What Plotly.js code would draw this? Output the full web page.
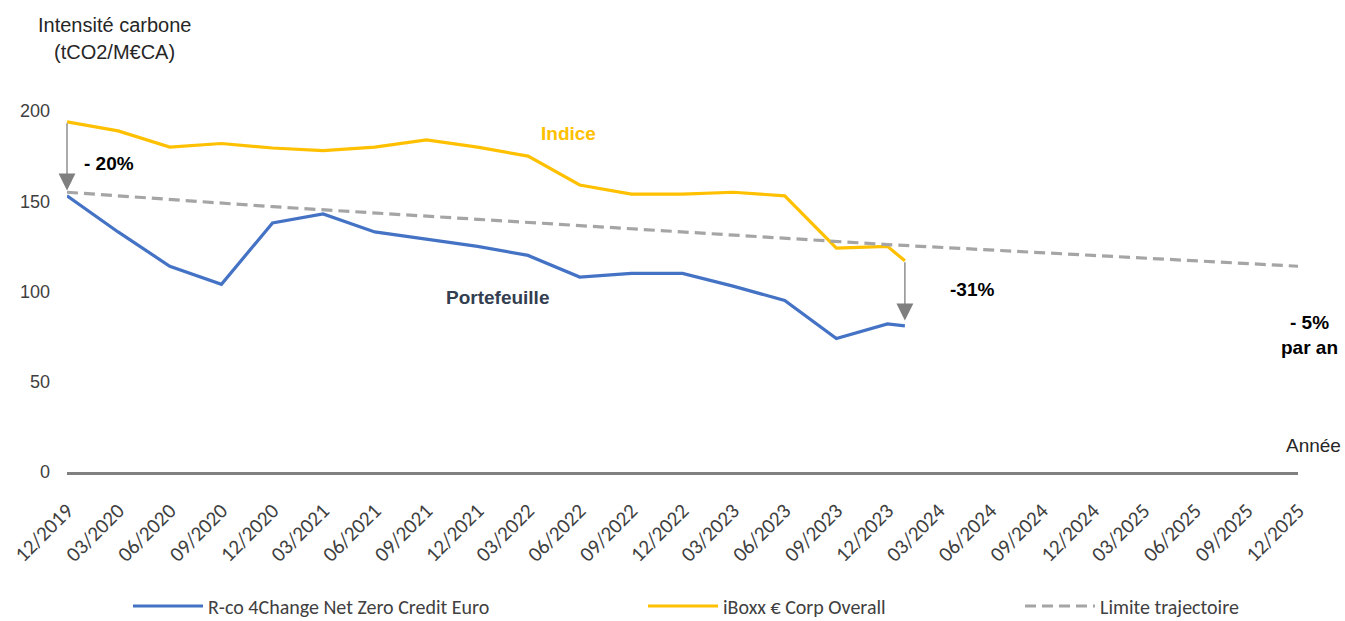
<!DOCTYPE html>
<html>
<head>
<meta charset="utf-8">
<script src="https://cdn.plot.ly/plotly-3.0.1.min.js"></script>
<style>html,body{margin:0;padding:0;background:#fff;}#chart{width:1345px;height:621px;}</style>
</head>
<body>
<div id="chart"></div>
<script>
// Quarterly tick positions and labels
const tickDates = ["2019-12-01","2020-03-01","2020-06-01","2020-09-01","2020-12-01","2021-03-01","2021-06-01","2021-09-01","2021-12-01","2022-03-01","2022-06-01","2022-09-01","2022-12-01","2023-03-01","2023-06-01","2023-09-01","2023-12-01","2024-03-01","2024-06-01","2024-09-01","2024-12-01","2025-03-01","2025-06-01","2025-09-01","2025-12-01"];
const tickLabels = ["12/2019","03/2020","06/2020","09/2020","12/2020","03/2021","06/2021","09/2021","12/2021","03/2022","06/2022","09/2022","12/2022","03/2023","06/2023","09/2023","12/2023","03/2024","06/2024","09/2024","12/2024","03/2025","06/2025","09/2025","12/2025"];

// Observed series dates (quarterly + last point 01/2024)
const seriesDates = ["2019-12-01","2020-03-01","2020-06-01","2020-09-01","2020-12-01","2021-03-01","2021-06-01","2021-09-01","2021-12-01","2022-03-01","2022-06-01","2022-09-01","2022-12-01","2023-03-01","2023-06-01","2023-09-01","2023-12-01","2024-01-01"];
const portfolio = [153,133,114,104,138,143,133,129,125,120,108,110,110,103,95,74,82,81];
const indice    = [194,189,180,182,179.5,178,180,184,180,175,159,154,154,155,153,124,125,117];

// Trajectory limit (-5% per year)
const trajDates = ["2019-12-01","2020-12-01","2021-12-01","2022-12-01","2023-12-01","2024-12-01","2025-12-01"];
const trajectory = [155,147,140,133,126,120,114];

const yTicks = [0,50,100,150,200];

const names = ["R-co 4Change Net Zero Credit Euro","iBoxx € Corp Overall","Limite trajectoire"];
const colors = {blue:"#4472C4", gold:"#FFC000", grey:"#A5A5A5"};

const legendFont = {family:"Carlito, 'Liberation Sans Narrow', 'Liberation Sans', Arial, sans-serif", size:20, color:"#404040"};

const traces = [
  {x:seriesDates, y:portfolio, name:names[0], type:"scatter", mode:"lines",
   line:{color:colors.blue, width:3.2}, legend:"legend", cliponaxis:false, hoverinfo:"skip"},
  {x:seriesDates, y:indice, name:names[1], type:"scatter", mode:"lines",
   line:{color:colors.gold, width:3.2}, legend:"legend2", cliponaxis:false, hoverinfo:"skip"},
  {x:trajDates, y:trajectory, name:names[2], type:"scatter", mode:"lines",
   line:{color:colors.grey, width:3.2, dash:"11px,6px"}, legend:"legend3", cliponaxis:false, hoverinfo:"skip"}
];

const last = seriesDates.length - 1;
const bold = {family:"'Liberation Sans', Arial, sans-serif", size:19, color:"#000000", weight:"bold"};
const arrowStyle = {showarrow:true, arrowhead:2, arrowsize:2.6, arrowwidth:1.3, arrowcolor:"#7F7F7F", text:"", axref:"x", ayref:"y", standoff:0, startstandoff:0};

const annotations = [
  // arrows
  Object.assign({x:seriesDates[0], y:trajectory[0]+1, ax:seriesDates[0], ay:indice[0]}, arrowStyle),
  Object.assign({x:seriesDates[last], y:portfolio[last]+3, ax:seriesDates[last], ay:indice[last]}, arrowStyle),
  // labels
  {xref:"paper", yref:"paper", x:(114-67)/1231, y:(472-25)/361, text:"Intensité carbone", showarrow:false,
   font:{family:"'Liberation Sans', Arial, sans-serif", size:20, color:"#262626"}, xanchor:"center", yanchor:"middle"},
  {xref:"paper", yref:"paper", x:(114-67)/1231, y:(472-52)/361, text:"(tCO2/M€CA)", showarrow:false,
   font:{family:"'Liberation Sans', Arial, sans-serif", size:20, color:"#262626"}, xanchor:"center", yanchor:"middle"},
  {xref:"paper", yref:"paper", x:(1313-67)/1231, y:(472-445)/361, text:"Année", showarrow:false,
   font:{family:"'Liberation Sans', Arial, sans-serif", size:19, color:"#262626"}, xanchor:"center", yanchor:"middle"},
  {xref:"paper", yref:"paper", x:(568-67)/1231, y:(472-134)/361, text:"Indice", showarrow:false,
   font:{family:"'Liberation Sans', Arial, sans-serif", size:19, color:colors.gold, weight:"bold"}, xanchor:"center", yanchor:"middle"},
  {xref:"paper", yref:"paper", x:(497-67)/1231, y:(472-297)/361, text:"Portefeuille", showarrow:false,
   font:{family:"'Liberation Sans', Arial, sans-serif", size:19, color:"#333F50", weight:"bold"}, xanchor:"center", yanchor:"middle"},
  {xref:"paper", yref:"paper", x:(82-67)/1231, y:(472-163)/361, text:"- 20%", showarrow:false,
   font:bold, xanchor:"left", yanchor:"middle"},
  {xref:"paper", yref:"paper", x:(948-67)/1231, y:(472-289)/361, text:"-31%", showarrow:false,
   font:bold, xanchor:"left", yanchor:"middle"},
  {xref:"paper", yref:"paper", x:(1310-67)/1231, y:(472-335)/361, text:"- 5%<br>par an", showarrow:false,
   font:bold, xanchor:"center", yanchor:"middle", align:"center"}
];

function legendAt(px){
  return {orientation:"h", x:(px-67)/1231, xanchor:"left", y:(472-606)/361, yanchor:"middle",
          font:legendFont, bgcolor:"rgba(0,0,0,0)", itemwidth:70};
}

const layout = {
  width:1345, height:621,
  margin:{l:67, r:47, t:111, b:149, pad:0, autoexpand:false},
  paper_bgcolor:"#ffffff", plot_bgcolor:"#ffffff",
  showlegend:true,
  xaxis:{type:"date", range:["2019-12-01","2025-12-01"], tickmode:"array", tickvals:tickDates, ticktext:tickLabels,
         tickangle:-45, showgrid:false, zeroline:false, showline:true, linecolor:"#808080", linewidth:3,
         ticks:"", ticklabelstandoff:15, automargin:false,
         tickfont:{family:"Carlito, 'Liberation Sans Narrow', 'Liberation Sans', Arial, sans-serif", size:21, color:"#404040"}},
  yaxis:{range:[0,200], tickmode:"array", tickvals:yTicks, showgrid:false, zeroline:false, showline:false,
         ticks:"", ticklabelstandoff:16, automargin:false,
         tickfont:{family:"'Liberation Sans', Arial, sans-serif", size:18, color:"#404040"}},
  legend:legendAt(128),
  legend2:legendAt(643),
  legend3:legendAt(1020),
  annotations:annotations
};

Plotly.newPlot("chart", traces, layout, {displayModeBar:false, staticPlot:true});
</script>
</body>
</html>
